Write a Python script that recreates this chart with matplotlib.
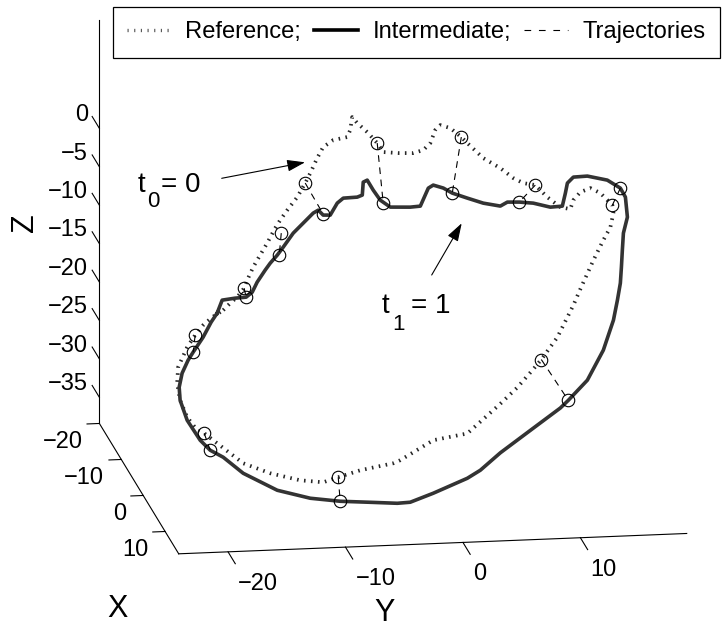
import numpy as np
import matplotlib
matplotlib.use("Agg")
import matplotlib.pyplot as plt
from matplotlib.lines import Line2D
from mpl_toolkits.mplot3d import proj3d

plt.rcParams["font.family"] = ["Liberation Sans", "DejaVu Sans"]

# ---------------------------------------------------------------- data
# Reference contour (Y, Z) lying in the plane X = X_PLANE
ref_y = [-18.88, -18.29, -17.69, -17.10, -16.84, -16.33, -15.99, -15.14, -14.46, -14.03,
         -13.43, -12.58, -11.90, -11.47, -10.88, -10.37, -9.51, -8.32, -8.07, -7.90,
         -7.47, -6.62, -5.77, -5.26, -3.98, -2.70, -1.85, -1.25, -0.83, -0.40,
         0.45, 1.39, 1.90, 3.26, 4.71, 5.82, 6.67, 7.69, 8.71, 9.82,
         10.67, 10.93, 11.52, 12.38, 13.23, 14.25, 14.34, 14.08, 13.48, 12.63,
         11.52, 10.93, 9.57, 8.20, 7.52, 6.16, 4.71, 1.90, -1.00, -3.81,
         -4.40, -7.21, -9.09, -10.37, -12.33, -14.88, -17.18, -19.40, -20.50, -21.10,
         -21.95, -22.55, -22.80, -22.72, -21.95, -21.27, -20.59, -19.82]
ref_z = [-10.86, -9.99, -9.24, -8.11, -7.08, -5.42, -4.53, -2.37, -0.46, 0.56,
         1.82, 3.46, 5.25, 6.52, 8.44, 9.84, 10.70, 11.02, 11.91, 13.59,
         12.79, 11.56, 10.08, 8.88, 8.67, 8.59, 8.93, 9.80, 11.47, 12.09,
         11.65, 10.42, 9.61, 7.57, 6.18, 4.81, 4.11, 3.79, 2.16, 0.79,
         0.48, 1.64, 2.64, 3.11, 2.41, 0.78, -0.26, -2.09, -3.73, -6.31,
         -9.99, -12.04, -16.12, -18.94, -20.15, -22.45, -24.49, -28.18, -28.88, -31.31,
         -31.67, -32.41, -33.20, -33.78, -33.40, -32.33, -30.89, -28.15, -26.78, -26.35,
         -24.61, -22.36, -20.13, -18.05, -15.49, -13.97, -12.71, -11.72]

# Intermediate contour (Y, Z)
int_y = [-19.40, -18.97, -17.86, -16.93, -16.41, -15.99, -15.31, -14.88, -14.28, -13.77,
         -12.92, -12.07, -11.22, -10.79, -10.37, -9.77, -9.17, -8.66, -7.47, -7.04,
         -6.96, -6.62, -6.11, -5.51, -4.66, -2.96, -2.10, -1.42, -1.00, -0.14,
         0.62, 1.90, 3.26, 4.71, 5.31, 6.33, 7.52, 8.97, 9.99, 10.25,
         10.42, 10.93, 12.12, 13.82, 14.93, 15.36, 15.53, 15.19, 15.10, 15.02,
         14.93, 14.68, 14.34, 13.48, 12.12, 10.50, 9.82, 7.52, 4.71, 3.01,
         1.90, -1.00, -2.96, -4.06, -6.36, -8.92, -11.47, -14.28, -17.18, -18.88,
         -19.99, -20.84, -21.95, -22.55, -22.63, -22.38, -21.87, -21.44, -20.59, -19.91]
int_z = [-11.22, -9.55, -9.36, -9.29, -8.67, -7.39, -5.87, -4.99, -3.98, -2.97,
         -1.20, 0.05, 1.30, 1.66, 0.99, 0.95, 2.48, 3.09, 3.15, 3.39,
         5.07, 5.31, 3.98, 2.64, 1.68, 1.57, 1.65, 3.95, 4.32, 3.88,
         3.18, 2.45, 1.71, 1.24, 1.72, 1.66, 1.45, 0.84, 0.91, 2.59,
         3.88, 4.63, 4.69, 4.06, 2.95, 1.76, -0.86, -2.92, -5.13, -7.34,
         -9.41, -11.61, -14.20, -18.05, -21.87, -24.39, -25.35, -27.83, -30.87, -33.03,
         -34.01, -35.78, -36.83, -36.90, -36.63, -36.34, -35.79, -34.58, -32.19, -30.00,
         -29.02, -27.67, -25.00, -22.36, -20.66, -18.85, -17.19, -16.17, -14.27, -12.36]

# Matched point pairs: reference sample -> intermediate sample
traj_ref_y = [-17.10, -21.27, -20.50, -9.09, 8.20, 14.25, 7.69, 1.39, -5.77, -11.90, -13.94]
traj_ref_z = [-8.11, -13.97, -26.78, -33.20, -18.94, 0.78, 3.79, 10.42, 10.08, 5.25, -1.14]
traj_int_y = [-16.93, -21.44, -19.99, -8.92, 10.50, 14.93, 6.33, 0.62, -5.26, -10.37, -14.11]
traj_int_z = [-9.29, -16.17, -29.02, -36.34, -24.39, 2.95, 1.66, 3.18, 2.24, 1.12, -3.99]

x_ticks = [-20, -10, 0, 10]
y_ticks = [-20, -10, 0, 10]
z_ticks = [-35, -30, -25, -20, -15, -10, -5, 0]

legend_labels = ["Reference;", "Intermediate;", "Trajectories"]

X_LIM = (-20.0, 16.2)
Y_LIM = (-24.2, 19.05)
Z_LIM = (-38.4, 14.1)
X_PLANE = 8.0

# ---------------------------------------------------------------- figure
W, H = 722, 627
fig = plt.figure(figsize=(W / 100, H / 100), dpi=100)
fig.patch.set_facecolor("white")

ax = fig.add_axes([0, 0, 1, 1], projection="3d")
ax.set_proj_type("ortho")
ax.view_init(elev=14.86, azim=-8.87)
ax.set_xlim(*X_LIM)
ax.set_ylim(*Y_LIM)
ax.set_zlim(*Z_LIM)
ax.set_box_aspect((14.2 * 36.2, 11.88 * 43.25, 7.945 * 52.5))
ax.set_axis_off()
ax.computed_zorder = False


def closed(a):
    return np.append(np.asarray(a, float), a[0])


REF_STYLE = dict(color="0.15", lw=2.7, ls=(0, (0.42, 1.45)))
INT_STYLE = dict(color="0.2", lw=2.6, ls="-")
TRAJ_STYLE = dict(color="k", lw=0.8, ls=(0, (6, 5)))

ax.plot(closed(ref_y), closed(ref_z), zs=X_PLANE, zdir="x", zorder=3, **REF_STYLE)
ax.plot(closed(int_y), closed(int_z), zs=X_PLANE, zdir="x", zorder=4, **INT_STYLE)
for ry, rz, iy, iz in zip(traj_ref_y, traj_ref_z, traj_int_y, traj_int_z):
    ax.plot([ry, iy], [rz, iz], zs=X_PLANE, zdir="x", zorder=5, **TRAJ_STYLE)
mk = dict(ls="none", marker="o", ms=9, mfc="none", mec="k", mew=0.8, zorder=6)
ax.plot(traj_ref_y, traj_ref_z, zs=X_PLANE, zdir="x", **mk)
ax.plot(traj_int_y, traj_int_z, zs=X_PLANE, zdir="x", **mk)

# ---------------------------------------------------------------- axis frame
x0, x1 = X_LIM
y0, y1 = Y_LIM
z0, z1 = Z_LIM
axis_kw = dict(color="k", lw=0.8, zorder=2)
ax.plot([x0, x0], [y0, y0], [z0, z1], **axis_kw)
ax.plot([x0, x1], [y0, y0], [z0, z0], **axis_kw)
ax.plot([x1, x1], [y0, y1], [z0, z0], **axis_kw)

TICK_X = 3.3
TICK_Y = 1.05
for z in z_ticks:
    ax.plot([x0, x0 - TICK_X], [y0, y0], [z, z], **axis_kw)
for x in x_ticks:
    ax.plot([x, x], [y0, y0 - TICK_Y], [z0, z0], **axis_kw)
for y in y_ticks:
    ax.plot([x1, x1 + TICK_X], [y, y], [z0, z0], **axis_kw)

# ---------------------------------------------------------------- place the 3D box on the canvas
# pixel anchors (display coords, origin bottom-left) of a few axis-frame points
frame_anchors = [
    ((x0, y0, 0.0), (99.3, 498.7)),
    ((x0, y0, -35.0), (99.3, 228.7)),
    ((10.0, y0, z0), (165.5, 95.0)),
    ((x1, -20.0, z0), (227.5, 75.4)),
    ((x1, 0.0, z0), (463.0, 85.3)),
    ((x1, 10.0, z0), (580.7, 89.7)),
]


def to_display(points):
    p = np.asarray(points, float)
    px, py, _ = proj3d.proj_transform(p[:, 0], p[:, 1], p[:, 2], ax.M)
    return ax.transData.transform(np.column_stack([px, py]))


fig.canvas.draw()
pts = [p for p, _ in frame_anchors]
tgt = np.array([t for _, t in frame_anchors], float)
disp = to_display(pts)
bb = ax.get_position()
L0, B0, S0 = bb.x0 * W, bb.y0 * H, bb.width * W
g = (disp - np.array([L0, B0])) / S0
A = np.zeros((2 * len(g), 3))
b = np.zeros(2 * len(g))
A[0::2, 0] = 1
A[0::2, 2] = g[:, 0]
A[1::2, 1] = 1
A[1::2, 2] = g[:, 1]
b[0::2] = tgt[:, 0]
b[1::2] = tgt[:, 1]
L, B, S = np.linalg.lstsq(A, b, rcond=None)[0]
ax.set_position([L / W, B / H, S / W, S / H])
fig.canvas.draw()

# ---------------------------------------------------------------- overlay: labels, legend, annotations
ov = fig.add_axes([0, 0, 1, 1], zorder=10)
ov.set_xlim(0, W)
ov.set_ylim(0, H)
ov.set_axis_off()
ov.patch.set_visible(False)


def label_at(point, s, dx, dy, **kw):
    """Text placed at a projected 3D point, shifted by (dx, dy) pixels."""
    u, v = to_display([point])[0]
    ov.text(u + dx, v + dy, s, **kw)


def fmt(v):
    return f"\u2212{abs(v)}" if v < 0 else f"{v}"


TICK_FS = 17
for z in z_ticks:
    label_at((x0, y0, z), fmt(z), -11.3, 13.3, ha="right", va="center", fontsize=TICK_FS)
for x in x_ticks:
    label_at((x, y0, z0), fmt(x), -17, -19, ha="right", va="center", fontsize=TICK_FS)
for y in y_ticks:
    label_at((x1, y, z0), fmt(y), 10, -32, ha="left", va="center", fontsize=TICK_FS)

LAB_FS = 22
label_at((x0, y0, -10), "Z", -74.3, -16.9, rotation=90, ha="center", va="center", fontsize=LAB_FS)
label_at((x1, y0, z0), "X", -61.3, -54.7, ha="center", va="center", fontsize=LAB_FS)
label_at((x1, -5, z0), "Y", -20, -68.5, ha="center", va="center", fontsize=LAB_FS)

handles = [Line2D([], [], color="0.35", lw=2.4, ls=(0, (0.35, 1.65))),
           Line2D([], [], color="k", lw=2.6),
           Line2D([], [], color="k", lw=0.8, ls=(0, (6, 7)))]
leg = ov.legend(handles, legend_labels, loc="upper left", bbox_to_anchor=(113, H - 7),
                bbox_transform=ov.transData, ncol=3, fontsize=17.1, frameon=True,
                fancybox=False, edgecolor="k", framealpha=1, handlelength=1.85,
                handletextpad=0.6, columnspacing=0.55, borderpad=0.6, borderaxespad=0)
leg.get_frame().set_linewidth(0.9)

arrow = dict(arrowstyle="-|>,head_length=0.55,head_width=0.18", mutation_scale=20,
             lw=0.8, color="k", shrinkA=0, shrinkB=0)
ov.annotate("", xy=(305, H - 162.3), xytext=(221.7, H - 178.3), arrowprops=arrow)
ov.annotate("", xy=(461.7, H - 223.3), xytext=(431.7, H - 275), arrowprops=arrow)

ANN_FS = 20
ov.text(138, H - 192, "t", fontsize=ANN_FS, va="baseline")
ov.text(147.5, H - 207, "0", fontsize=16, va="baseline")
ov.text(161, H - 192, "= 0", fontsize=ANN_FS, va="baseline")
ov.text(382, H - 313, "t", fontsize=ANN_FS, va="baseline")
ov.text(392, H - 330, "1", fontsize=16, va="baseline")
ov.text(411, H - 313, "= 1", fontsize=ANN_FS, va="baseline")

fig.savefig("out.png", dpi=100)
